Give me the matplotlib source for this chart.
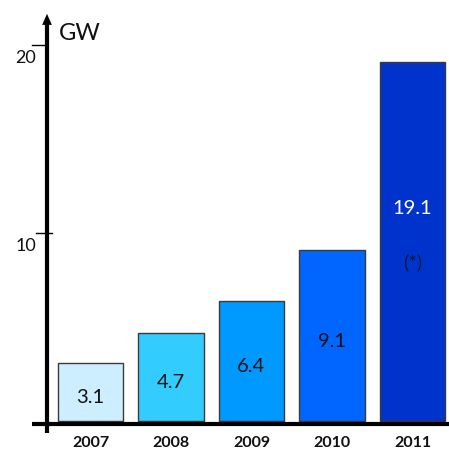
import matplotlib
matplotlib.use("Agg")
import matplotlib.pyplot as plt

years = ["2007", "2008", "2009", "2010", "2011"]
values = [3.1, 4.7, 6.4, 9.1, 19.1]
labels = ["3.1", "4.7", "6.4", "9.1", "19.1"]
colors = ["#CCEEFF", "#33CCFF", "#0099FF", "#0066FF", "#0033CC"]
label_colors = ["#111111", "#111111", "#111111", "#111111", "white"]
yticks = [10, 20]

plt.rcParams['font.family'] = ['Lato', 'DejaVu Sans']

fig = plt.figure(figsize=(4.49, 4.52), dpi=100)
ax = fig.add_axes([0, 0, 1, 1])
W, H = 449, 452
px_per_cat = 80.5
x0 = 90.5
y_zero = 422
px_per_unit = 18.8
ax.set_xlim(-x0 / px_per_cat, (W - x0) / px_per_cat)
ax.set_ylim(-(H - y_zero) / px_per_unit, y_zero / px_per_unit)

def px2x(p):
    return (p - x0) / px_per_cat

def py2y(p):
    return (y_zero - p) / px_per_unit

xs = list(range(len(years)))
ax.bar(xs, values, width=0.81, color=colors, edgecolor="#3a3a3a", linewidth=1.0, zorder=2)

for x, v, lab, c in zip(xs, values, labels, label_colors):
    if x == len(xs) - 1:
        ax.text(x, py2y(209), lab, ha="center", va="center", fontsize=14.5, color=c, zorder=3)
        ax.text(x, py2y(262), "(*)", ha="center", va="center", fontsize=14.5, color="#0a1a3a", zorder=3)
    else:
        ax.text(x, v / 2 - 0.25, lab, ha="center", va="center", fontsize=14.5, color=c, zorder=3)

for x, yr in zip(xs, years):
    ax.text(x, py2y(443), yr, ha="center", va="center", fontsize=11.5, fontweight="bold", color="#111111")

for s in ax.spines.values():
    s.set_visible(False)
ax.set_xticks([])
ax.set_yticks([])

# axes lines
yaxis_x = px2x(47)
ax.plot([yaxis_x, yaxis_x], [py2y(434), py2y(22)], color="black", lw=3, solid_capstyle="butt", zorder=4, clip_on=False)
ax.annotate("", xy=(yaxis_x, py2y(12)), xytext=(yaxis_x, py2y(26)),
            arrowprops=dict(arrowstyle="-|>,head_width=0.35,head_length=0.8", color="black", lw=0), zorder=4)
ax.plot([px2x(32), px2x(449)], [py2y(424.5), py2y(424.5)], color="black", lw=3, solid_capstyle="butt", zorder=4)

# y ticks
ax.plot([px2x(32), yaxis_x], [yticks[1], yticks[1]], color="black", lw=1, zorder=4)
ax.plot([px2x(36), px2x(52)], [yticks[0], yticks[0]], color="black", lw=1, zorder=4)
for t in yticks:
    ax.text(px2x(26), t - 0.65, str(t), ha="center", va="center", fontsize=13, color="#111111")

ax.text(px2x(59), py2y(33), "GW", ha="left", va="center", fontsize=17, color="#111111")

fig.savefig("out.png", dpi=100)
